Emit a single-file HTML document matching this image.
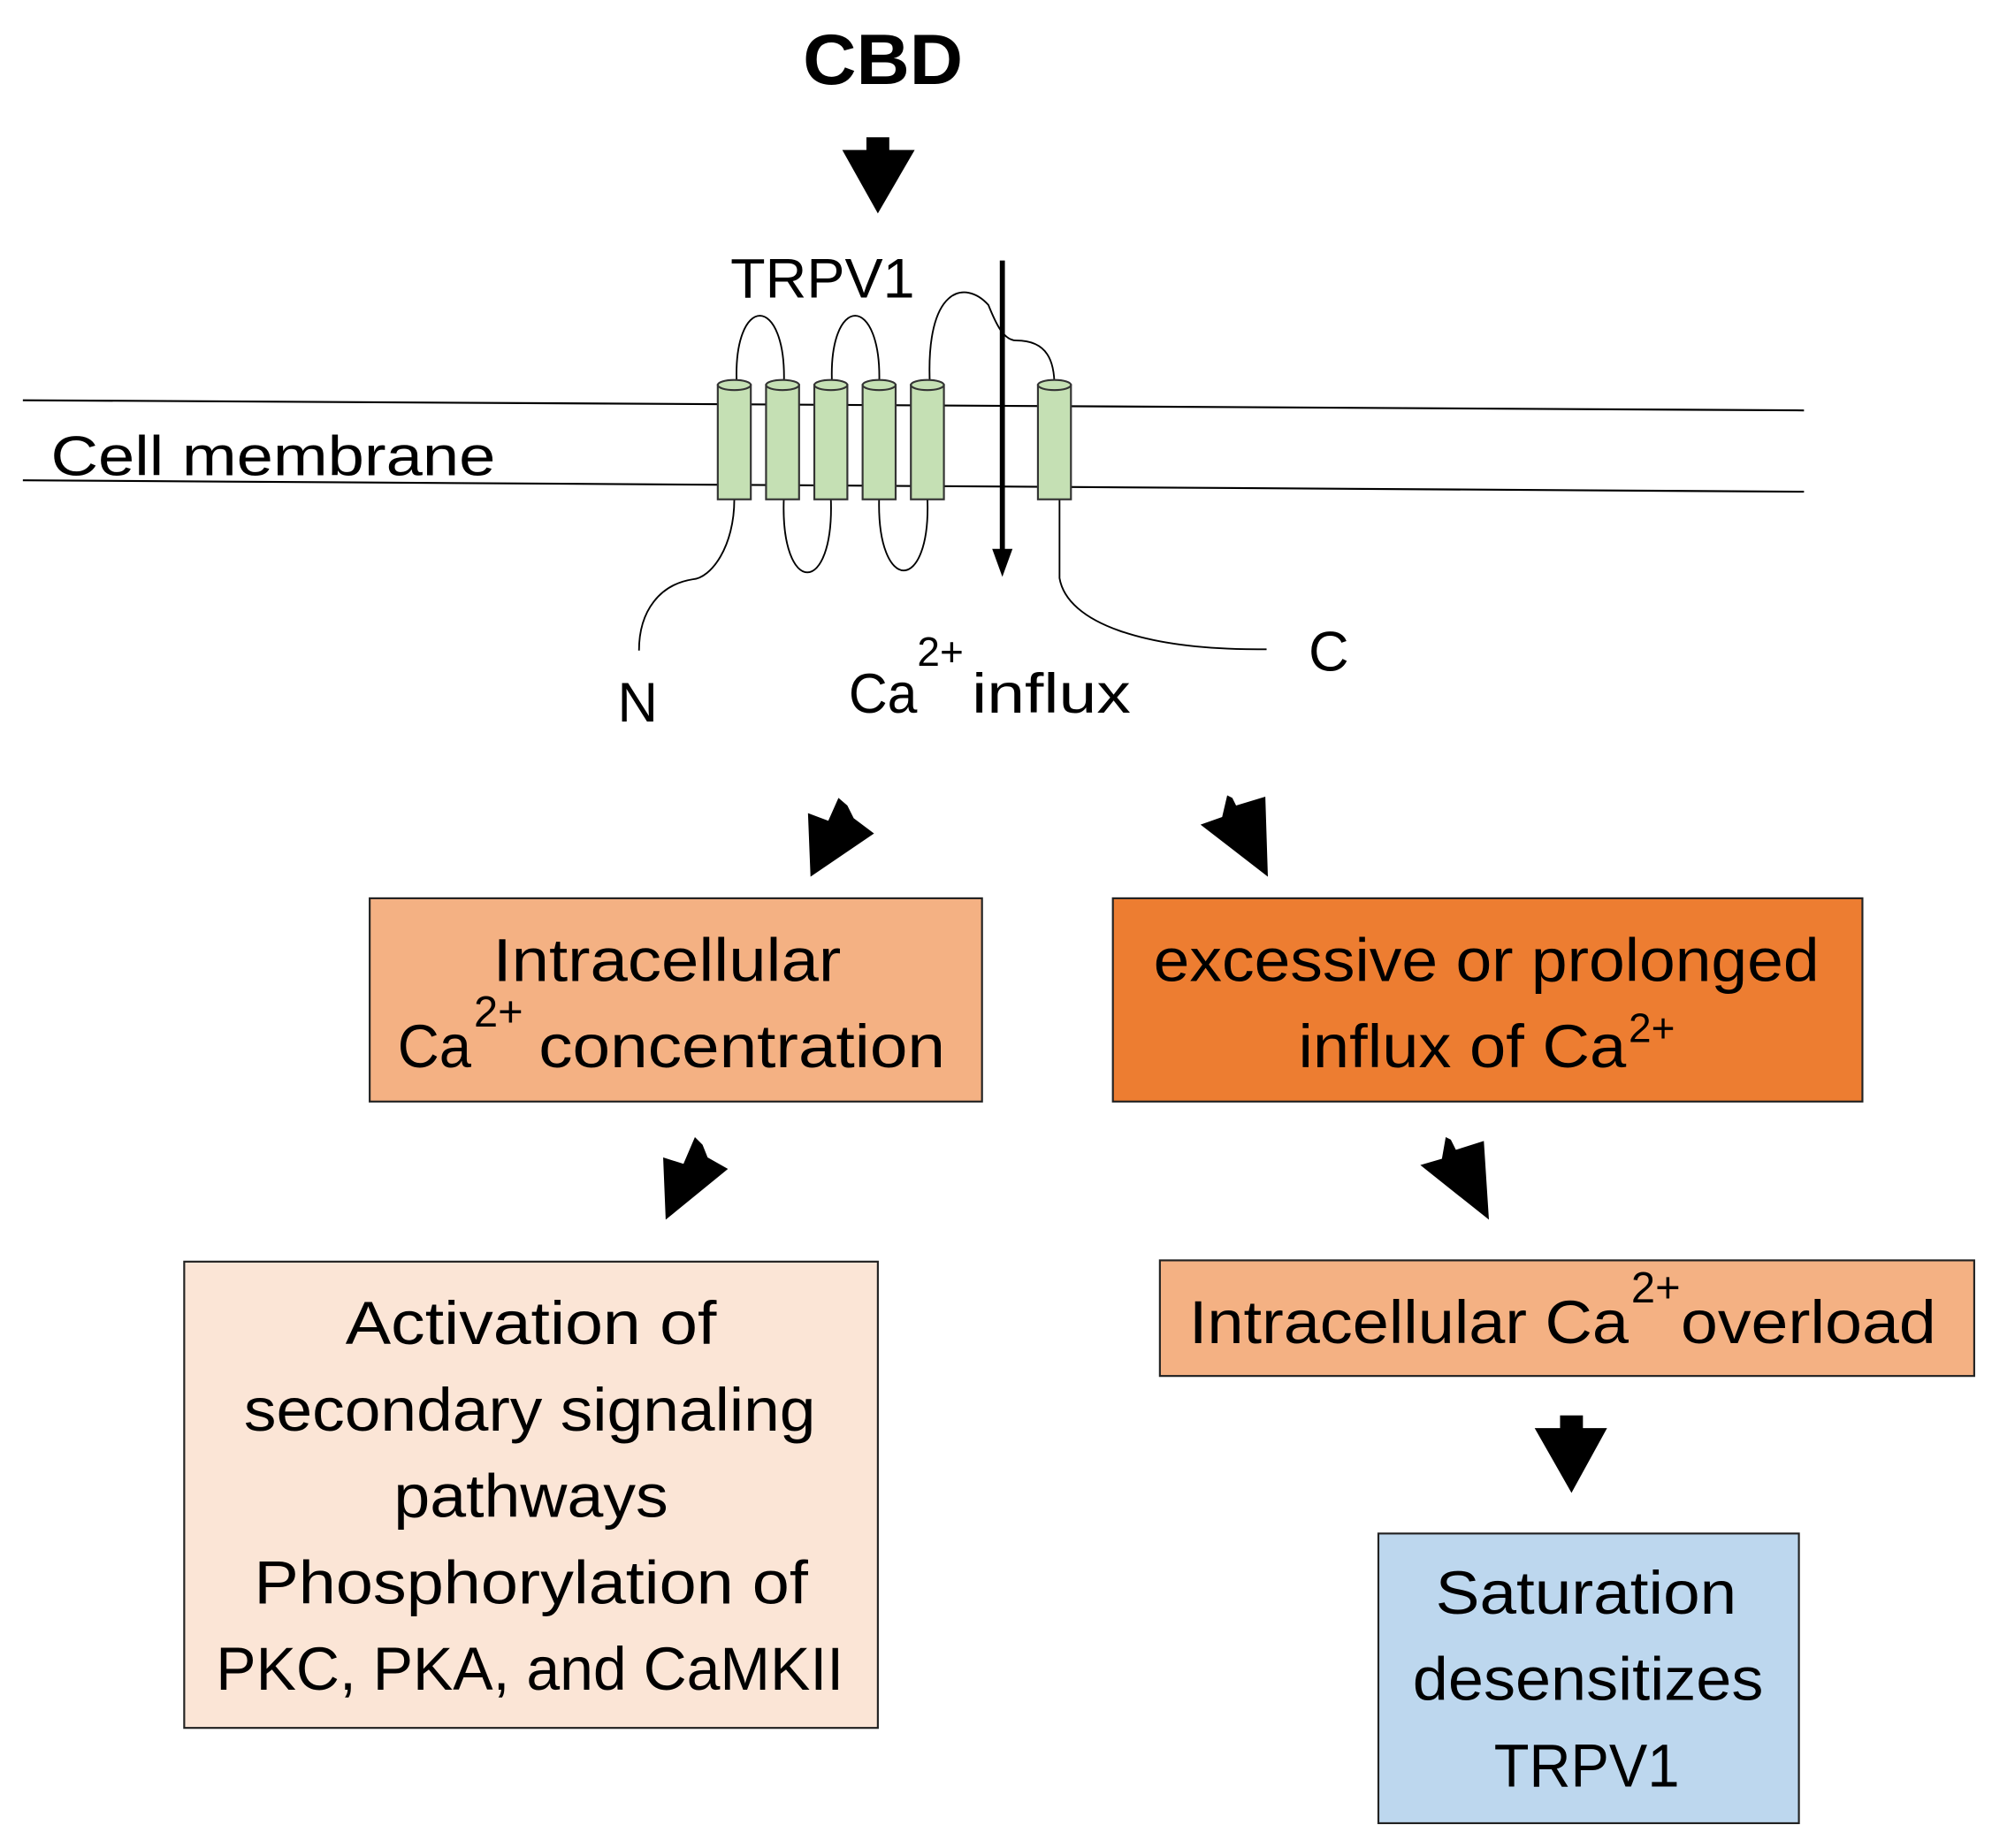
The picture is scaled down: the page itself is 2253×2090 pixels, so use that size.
<!DOCTYPE html>
<html><head><meta charset="utf-8"><style>
html,body{margin:0;padding:0;background:#fff;}
svg{display:block;}
text{font-family:"Liberation Sans",sans-serif;fill:#000;}
</style></head><body>
<svg width="2253" height="2090" viewBox="0 0 1568 1454.5" xmlns="http://www.w3.org/2000/svg">
<rect width="1568" height="1455" fill="#fff"/>
<!-- CBD -->
<text x="632" y="66" font-size="56" font-weight="bold" textLength="126" lengthAdjust="spacingAndGlyphs">CBD</text>
<polygon points="682,108 700,108 700,118 720,118 691,168 663,118 682,118" fill="#000"/>
<text x="575" y="234" font-size="44" textLength="145" lengthAdjust="spacingAndGlyphs">TRPV1</text>
<!-- membrane -->
<line x1="18" y1="315" x2="1420" y2="323" stroke="#000" stroke-width="1.5"/>
<line x1="18" y1="378" x2="1420" y2="387" stroke="#000" stroke-width="1.5"/>
<text x="40" y="374" font-size="44" textLength="350" lengthAdjust="spacingAndGlyphs">Cell membrane</text>
<!-- loops -->
<g fill="none" stroke="#000" stroke-width="1.3">
<path d="M580,304 C576,230 620,230 617,304"/>
<path d="M655,304 C651,230 695,230 692,304"/>
<path d="M732,304 C728,225 760,220 778,240 C784,255 790,268 800,268 C825,268 830,285 830,304"/>
<path d="M617,392 C614,470 657,470 654,392"/>
<path d="M692,392 C690,468 733,468 730,392"/>
<path d="M578,393 C578,430 560,455 545,456 C520,460 503,480 503,512"/>
<path d="M834,393 L834,455 C840,490 900,512 997,511"/>
</g>
<!-- cylinders -->
<g fill="#c5e0b4" stroke="#333" stroke-width="1.5">
<g><rect x="565" y="303" width="26" height="90"/><ellipse cx="578" cy="303" rx="13" ry="4"/></g>
<g><rect x="603" y="303" width="26" height="90"/><ellipse cx="616" cy="303" rx="13" ry="4"/></g>
<g><rect x="641" y="303" width="26" height="90"/><ellipse cx="654" cy="303" rx="13" ry="4"/></g>
<g><rect x="679" y="303" width="26" height="90"/><ellipse cx="692" cy="303" rx="13" ry="4"/></g>
<g><rect x="717" y="303" width="26" height="90"/><ellipse cx="730" cy="303" rx="13" ry="4"/></g>
<g><rect x="817" y="303" width="26" height="90"/><ellipse cx="830" cy="303" rx="13" ry="4"/></g>
</g>
<!-- influx arrow -->
<line x1="789" y1="205" x2="789" y2="435" stroke="#000" stroke-width="4"/>
<polygon points="781,432 797,432 789,454" fill="#000"/>
<text x="486" y="568" font-size="44">N</text>
<text x="1030" y="528" font-size="44">C</text>
<text x="668" y="561" font-size="44" textLength="54" lengthAdjust="spacingAndGlyphs">Ca</text>
<text x="722" y="524" font-size="32">2+</text>
<text x="765" y="561" font-size="44" textLength="125" lengthAdjust="spacingAndGlyphs">influx</text>
<!-- angled arrows -->
<polygon points="660,628 667,634 672,644 688,656 638,690 636,640 652,646" fill="#000"/>
<polygon points="966,626 970,628 973,634 996,627 998,690 945,649 962,643" fill="#000"/>
<polygon points="547,895 553,901 557,911 573,920 524,960 522,911 538,916" fill="#000"/>
<polygon points="1138,895 1142,897 1146,905 1168,898 1172,960 1118,917 1135,912" fill="#000"/>
<polygon points="1228,1114 1246,1114 1246,1124 1265,1124 1237,1175 1208,1124 1228,1124" fill="#000"/>
<!-- boxes -->
<rect x="291" y="707" width="482" height="160" fill="#f4b183" stroke="#222" stroke-width="1.5"/>
<text x="388" y="772" font-size="48" textLength="274" lengthAdjust="spacingAndGlyphs">Intracellular</text>
<text x="313" y="840" font-size="48" textLength="58" lengthAdjust="spacingAndGlyphs">Ca</text>
<text x="373" y="808" font-size="34">2+</text>
<text x="424" y="840" font-size="48" textLength="320" lengthAdjust="spacingAndGlyphs">concentration</text>

<rect x="876" y="707" width="590" height="160" fill="#ed7d31" stroke="#222" stroke-width="1.5"/>
<text x="908" y="772" font-size="48" textLength="524" lengthAdjust="spacingAndGlyphs">excessive or prolonged</text>
<text x="1022" y="840" font-size="48" textLength="258" lengthAdjust="spacingAndGlyphs">influx of Ca</text>
<text x="1282" y="820" font-size="32">2+</text>

<rect x="145" y="993" width="546" height="367" fill="#fbe5d6" stroke="#222" stroke-width="1.5"/>
<text x="272" y="1058" font-size="48" textLength="292" lengthAdjust="spacingAndGlyphs">Activation of</text>
<text x="192" y="1126" font-size="48" textLength="450" lengthAdjust="spacingAndGlyphs">secondary signaling</text>
<text x="310" y="1194" font-size="48" textLength="216" lengthAdjust="spacingAndGlyphs">pathways</text>
<text x="200" y="1262" font-size="48" textLength="436" lengthAdjust="spacingAndGlyphs">Phosphorylation of</text>
<text x="170" y="1330" font-size="48" textLength="494" lengthAdjust="spacingAndGlyphs">PKC, PKA, and CaMKII</text>

<rect x="913" y="992" width="641" height="91" fill="#f4b183" stroke="#222" stroke-width="1.5"/>
<text x="936" y="1057" font-size="48" textLength="346" lengthAdjust="spacingAndGlyphs">Intracellular Ca</text>
<text x="1284" y="1025" font-size="34">2+</text>
<text x="1323" y="1057" font-size="48" textLength="201" lengthAdjust="spacingAndGlyphs">overload</text>

<rect x="1085" y="1207" width="331" height="228" fill="#bdd7ee" stroke="#222" stroke-width="1.5"/>
<text x="1130" y="1270" font-size="48" textLength="237" lengthAdjust="spacingAndGlyphs">Saturation</text>
<text x="1112" y="1338" font-size="48" textLength="276" lengthAdjust="spacingAndGlyphs">desensitizes</text>
<text x="1176" y="1406" font-size="48" textLength="146" lengthAdjust="spacingAndGlyphs">TRPV1</text>
</svg>
</body></html>
